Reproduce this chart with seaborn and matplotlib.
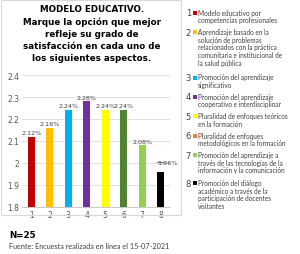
import numpy as np
import pandas as pd
import seaborn as sns
import matplotlib.pyplot as plt
from matplotlib.patches import Rectangle
from matplotlib.ticker import FuncFormatter

categories = ["1", "2", "3", "4", "5", "6", "7", "8"]
values = [2.12, 2.16, 2.24, 2.28, 2.24, 2.24, 2.08, 1.96]
value_labels = ["2.12%", "2.16%", "2.24%", "2.28%", "2.24%", "2.24%", "2.08%", "1.96%"]
bar_colors = ["#C00000", "#FFC000", "#00B0F0", "#7030A0", "#FFFF00", "#548235", "#92D050", "#000000"]
legend_colors = ["#C00000", "#FFC000", "#00B0F0", "#7030A0", "#FFFF00", "#ED7D31", "#92D050", "#000000"]
legend_texts = [
    "Modelo educativo por\ncompetencias profesionales",
    "Aprendizaje basado en la\nsolución de problemas\nrelacionados con la práctica\ncomunitaria e institucional de\nla salud pública",
    "Promoción del aprendizaje\nsignificativo",
    "Promoción del aprendizaje\ncooperativo e interdisciplinar",
    "Pluralidad de enfoques teóricos\nen la formación",
    "Pluralidad de enfoques\nmetodológicos en la formación",
    "Promoción del aprendizaje a\ntravés de las tecnologías de la\ninformación y la comunicación",
    "Promoción del diálogo\nacadémico a través de la\nparticipación de docentes\nvisitantes",
]
title = ("MODELO EDUCATIVO.\nMarque la opción que mejor\nrefleje su grado de\n"
         "satisfacción en cada uno de\nlos siguientes aspectos.")

W, H = 300, 255
fig = plt.figure(figsize=(3.0, 2.55), dpi=100)

def fx(x):
    return x / W

def fy(y):
    return 1 - y / H

# chart frame
fig.patches.append(Rectangle((fx(1), fy(216)), fx(180), 215 / H, transform=fig.transFigure,
                             fill=False, edgecolor="#D9D9D9", linewidth=0.8))

ax = fig.add_axes([fx(22), fy(208), fx(148), (208 - 76) / H])
df = pd.DataFrame({"cat": categories, "val": values})
sns.barplot(data=df, x="cat", y="val", hue="cat", palette=bar_colors, legend=False,
            width=0.4, saturation=1, ax=ax, zorder=3)
ax.set_ylim(1.8, 2.4)
ax.set_yticks([1.8, 1.9, 2.0, 2.1, 2.2, 2.3, 2.4])
ax.yaxis.set_major_formatter(FuncFormatter(lambda v, p: f"{v:g}"))
ax.grid(axis="y", color="#D9D9D9", linewidth=0.6, zorder=0)
ax.set_xlabel("")
ax.set_ylabel("")
for s in ["top", "right", "left"]:
    ax.spines[s].set_visible(False)
ax.spines["bottom"].set_color("#BFBFBF")
ax.spines["bottom"].set_linewidth(0.6)
ax.tick_params(axis="both", length=0, labelsize=5.5, labelcolor="#595959", pad=2)

for i, (v, lab) in enumerate(zip(values, value_labels)):
    if i == len(values) - 1:
        ax.annotate(lab, xy=(i - 0.35, 2.003), xytext=(i + 0.35, 2.003), fontsize=4.6,
                    color="#404040", ha="center", va="center",
                    arrowprops=dict(arrowstyle="-", color="#404040", lw=0.5), annotation_clip=False)
    else:
        ax.text(i, v + 0.008, lab, ha="center", va="bottom", fontsize=4.6, color="#404040")

fig.text(fx(92), fy(34), title, ha="center", va="center", fontsize=6.3, fontweight="bold",
         linespacing=1.45, family="DejaVu Sans")

# legend on the right
fs = 4.7
line_h = 8.6
gap = 2.2
y = 14
for i, (txt, col) in enumerate(zip(legend_texts, legend_colors)):
    fig.text(fx(191), fy(y), str(i + 1), ha="right", va="center", fontsize=6, color="#404040")
    fig.patches.append(Rectangle((fx(192.5), fy(y + 2)), fx(4), 4 / H, transform=fig.transFigure,
                                 facecolor=col, edgecolor="none"))
    fig.text(fx(198), fy(y - 4.2), txt, ha="left", va="top", fontsize=fs, color="#404040",
             linespacing=line_h / (fs * 100 / 72 * 1.2), family="Lato")
    y += line_h * (txt.count("\n") + 1) + gap

fig.text(fx(9), fy(236), "N=25", ha="left", va="center", fontsize=6.3, fontweight="bold")
fig.text(fx(9), fy(247), "Fuente: Encuesta realizada en línea el 15-07-2021", ha="left",
         va="center", fontsize=5.2, color="#404040", family="Lato")

fig.savefig("out.png", dpi=100)
